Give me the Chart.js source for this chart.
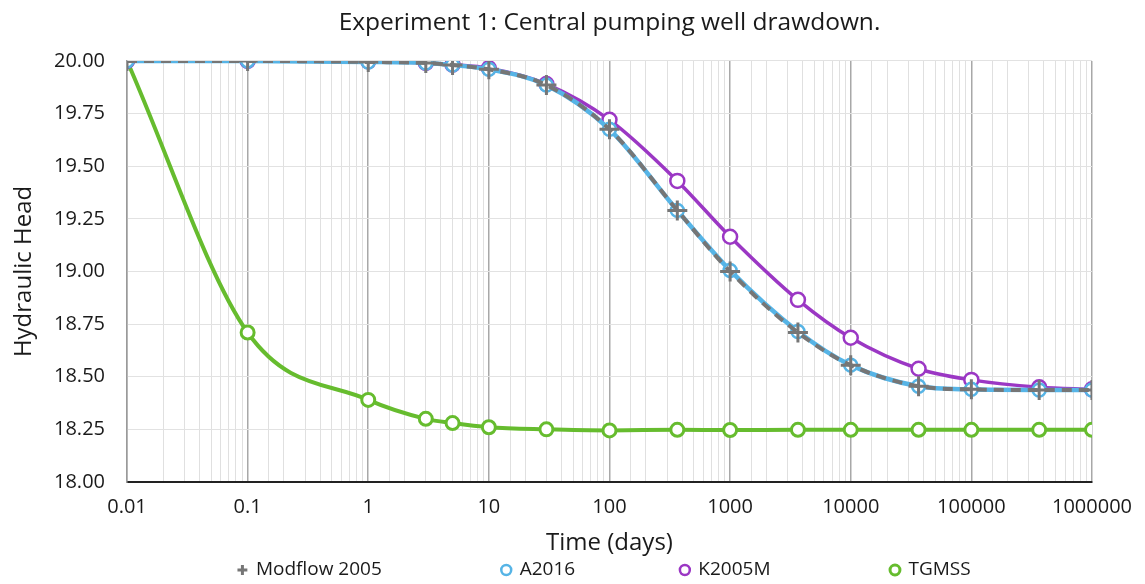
<!DOCTYPE html>
<html>
<head>
<meta charset="utf-8">
<script src="https://cdn.jsdelivr.net/npm/chart.js@4"></script>
<style>
	html, body { margin: 0; padding: 0; background: #fff; }
	#wrap { width: 1145px; height: 584px; }
</style>
</head>
<body>
<div id="wrap"><canvas id="chart"></canvas></div>
<script>
const FONT = '"Open Sans", "Noto Sans", sans-serif'

// Data

const times = [0.01, 0.1, 1, 3, 5, 10, 30, 100, 365, 1000, 3650, 10000, 36500, 100000, 365000, 1000000]
const modflow = [20.00, 20.00, 19.995, 19.99, 19.98, 19.96, 19.885, 19.675, 19.29, 19.00, 18.71, 18.555, 18.455, 18.44, 18.437, 18.437]
const a2016 = [20.00, 20.00, 19.995, 19.99, 19.98, 19.96, 19.885, 19.675, 19.29, 19.005, 18.715, 18.555, 18.455, 18.44, 18.437, 18.437]
const k2005m = [20.00, 20.00, 19.998, 19.99, 19.982, 19.965, 19.89, 19.72, 19.43, 19.165, 18.865, 18.685, 18.538, 18.485, 18.45, 18.44]
const tgmss = [20.00, 18.71, 18.39, 18.30, 18.28, 18.26, 18.25, 18.245, 18.248, 18.247, 18.248, 18.248, 18.248, 18.248, 18.248, 18.248]
const xTickLabels = ['0.01', '0.1', '1', '10', '100', '1000', '10000', '100000', '1000000']

function points(values) {
	return times.map((t, i) => ({ x: t, y: values[i] }))
}

function isDecade(v) {
	const l = Math.log10(v)
	return Math.abs(l - Math.round(l)) < 1e-9
}

// legend items sit far apart, but labels.padding also pushes them down,
// so the gap goes into the text instead
const LEGEND_SPACES = [24, 21, 24, 2]

function legendLabels(chart) {
	const items = Chart.defaults.plugins.legend.labels.generateLabels(chart)
	items.forEach((item, i) => {
		if (LEGEND_SPACES[i]) item.text += ' '.repeat(LEGEND_SPACES[i])
	})
	return items
}

// Chart

const chart = new Chart('chart', {
	type: 'line',
	data: {
		datasets: [
			{
				label: 'Modflow 2005',
				data: points(modflow),
				borderColor: '#767676',
				borderWidth: 4,
				borderDash: [10, 7],
				pointStyle: 'cross',
				pointRadius: 10,
				pointBorderWidth: 3,
				pointBorderColor: '#767676',
				pointBackgroundColor: '#767676',
				cubicInterpolationMode: 'monotone'
			},
			{
				label: 'A2016',
				data: points(a2016),
				borderColor: '#56b4e6',
				borderWidth: 4.5,
				pointStyle: 'circle',
				pointRadius: 6.5,
				pointBorderWidth: 2.5,
				pointBorderColor: '#56b4e6',
				pointBackgroundColor: '#fff',
				cubicInterpolationMode: 'monotone'
			},
			{
				label: 'K2005M',
				data: points(k2005m),
				borderColor: '#9b37c4',
				borderWidth: 3.5,
				pointStyle: 'circle',
				pointRadius: 7,
				pointBorderWidth: 2.5,
				pointBorderColor: '#9b37c4',
				pointBackgroundColor: '#fff',
				cubicInterpolationMode: 'monotone'
			},
			{
				label: 'TGMSS',
				data: points(tgmss),
				borderColor: '#66bc2e',
				borderWidth: 4,
				pointStyle: 'circle',
				pointRadius: 6.5,
				pointBorderWidth: 3,
				pointBorderColor: '#66bc2e',
				pointBackgroundColor: '#fff',
				cubicInterpolationMode: 'monotone'
			}
		]
	},
	options: {
		responsive: true,
		maintainAspectRatio: false,
		animation: false,
		layout: { padding: { top: 4, right: 24, left: 0, bottom: -5.5 } },
		plugins: {
			title: {
				display: true,
				fullSize: false,
				text: 'Experiment 1: Central pumping well drawdown.',
				color: '#1a1a1a',
				font: { family: FONT, size: 24.5, weight: 'normal' },
				padding: { top: 4, bottom: 23.5 }
			},
			legend: {
				position: 'bottom',
				fullSize: false,
				labels: {
					usePointStyle: true,
					boxWidth: 8,
					boxHeight: 7,
					padding: 2,
					color: '#1a1a1a',
					font: { family: FONT, size: 19 },
					generateLabels: legendLabels
				}
			},
			tooltip: { enabled: false }
		},
		scales: {
			x: {
				type: 'logarithmic',
				min: 0.01,
				max: 1000000,
				title: {
					display: true,
					text: 'Time (days)',
					color: '#1a1a1a',
					font: { family: FONT, size: 24, lineHeight: 1 },
					padding: { top: -1, bottom: 3.5 }
				},
				border: { color: '#222', width: 2 },
				grid: {
					drawTicks: false,
					color: ctx => isDecade(ctx.tick.value) ? '#a8a8a8' : '#e0e0e0',
					lineWidth: ctx => isDecade(ctx.tick.value) ? 1.5 : 1
				},
				ticks: {
					autoSkip: false,
					maxRotation: 0,
					minRotation: 0,
					padding: 13,
					color: '#1a1a1a',
					font: { family: FONT, size: 20 },
					callback: v => isDecade(v) ? xTickLabels[Math.round(Math.log10(v)) + 2] : ''
				}
			},
			y: {
				min: 18,
				max: 20,
				title: {
					display: true,
					text: 'Hydraulic Head',
					color: '#1a1a1a',
					font: { family: FONT, size: 24, lineHeight: 1 },
					padding: { top: 12, bottom: -4 }
				},
				border: { color: '#9a9a9a', width: 1.5 },
				grid: { drawTicks: false, color: '#e2e2e2' },
				ticks: {
					stepSize: 0.25,
					padding: 22,
					color: '#1a1a1a',
					font: { family: FONT, size: 20 },
					callback: v => v.toFixed(2)
				}
			}
		}
	}
})
</script>
</body>
</html>
